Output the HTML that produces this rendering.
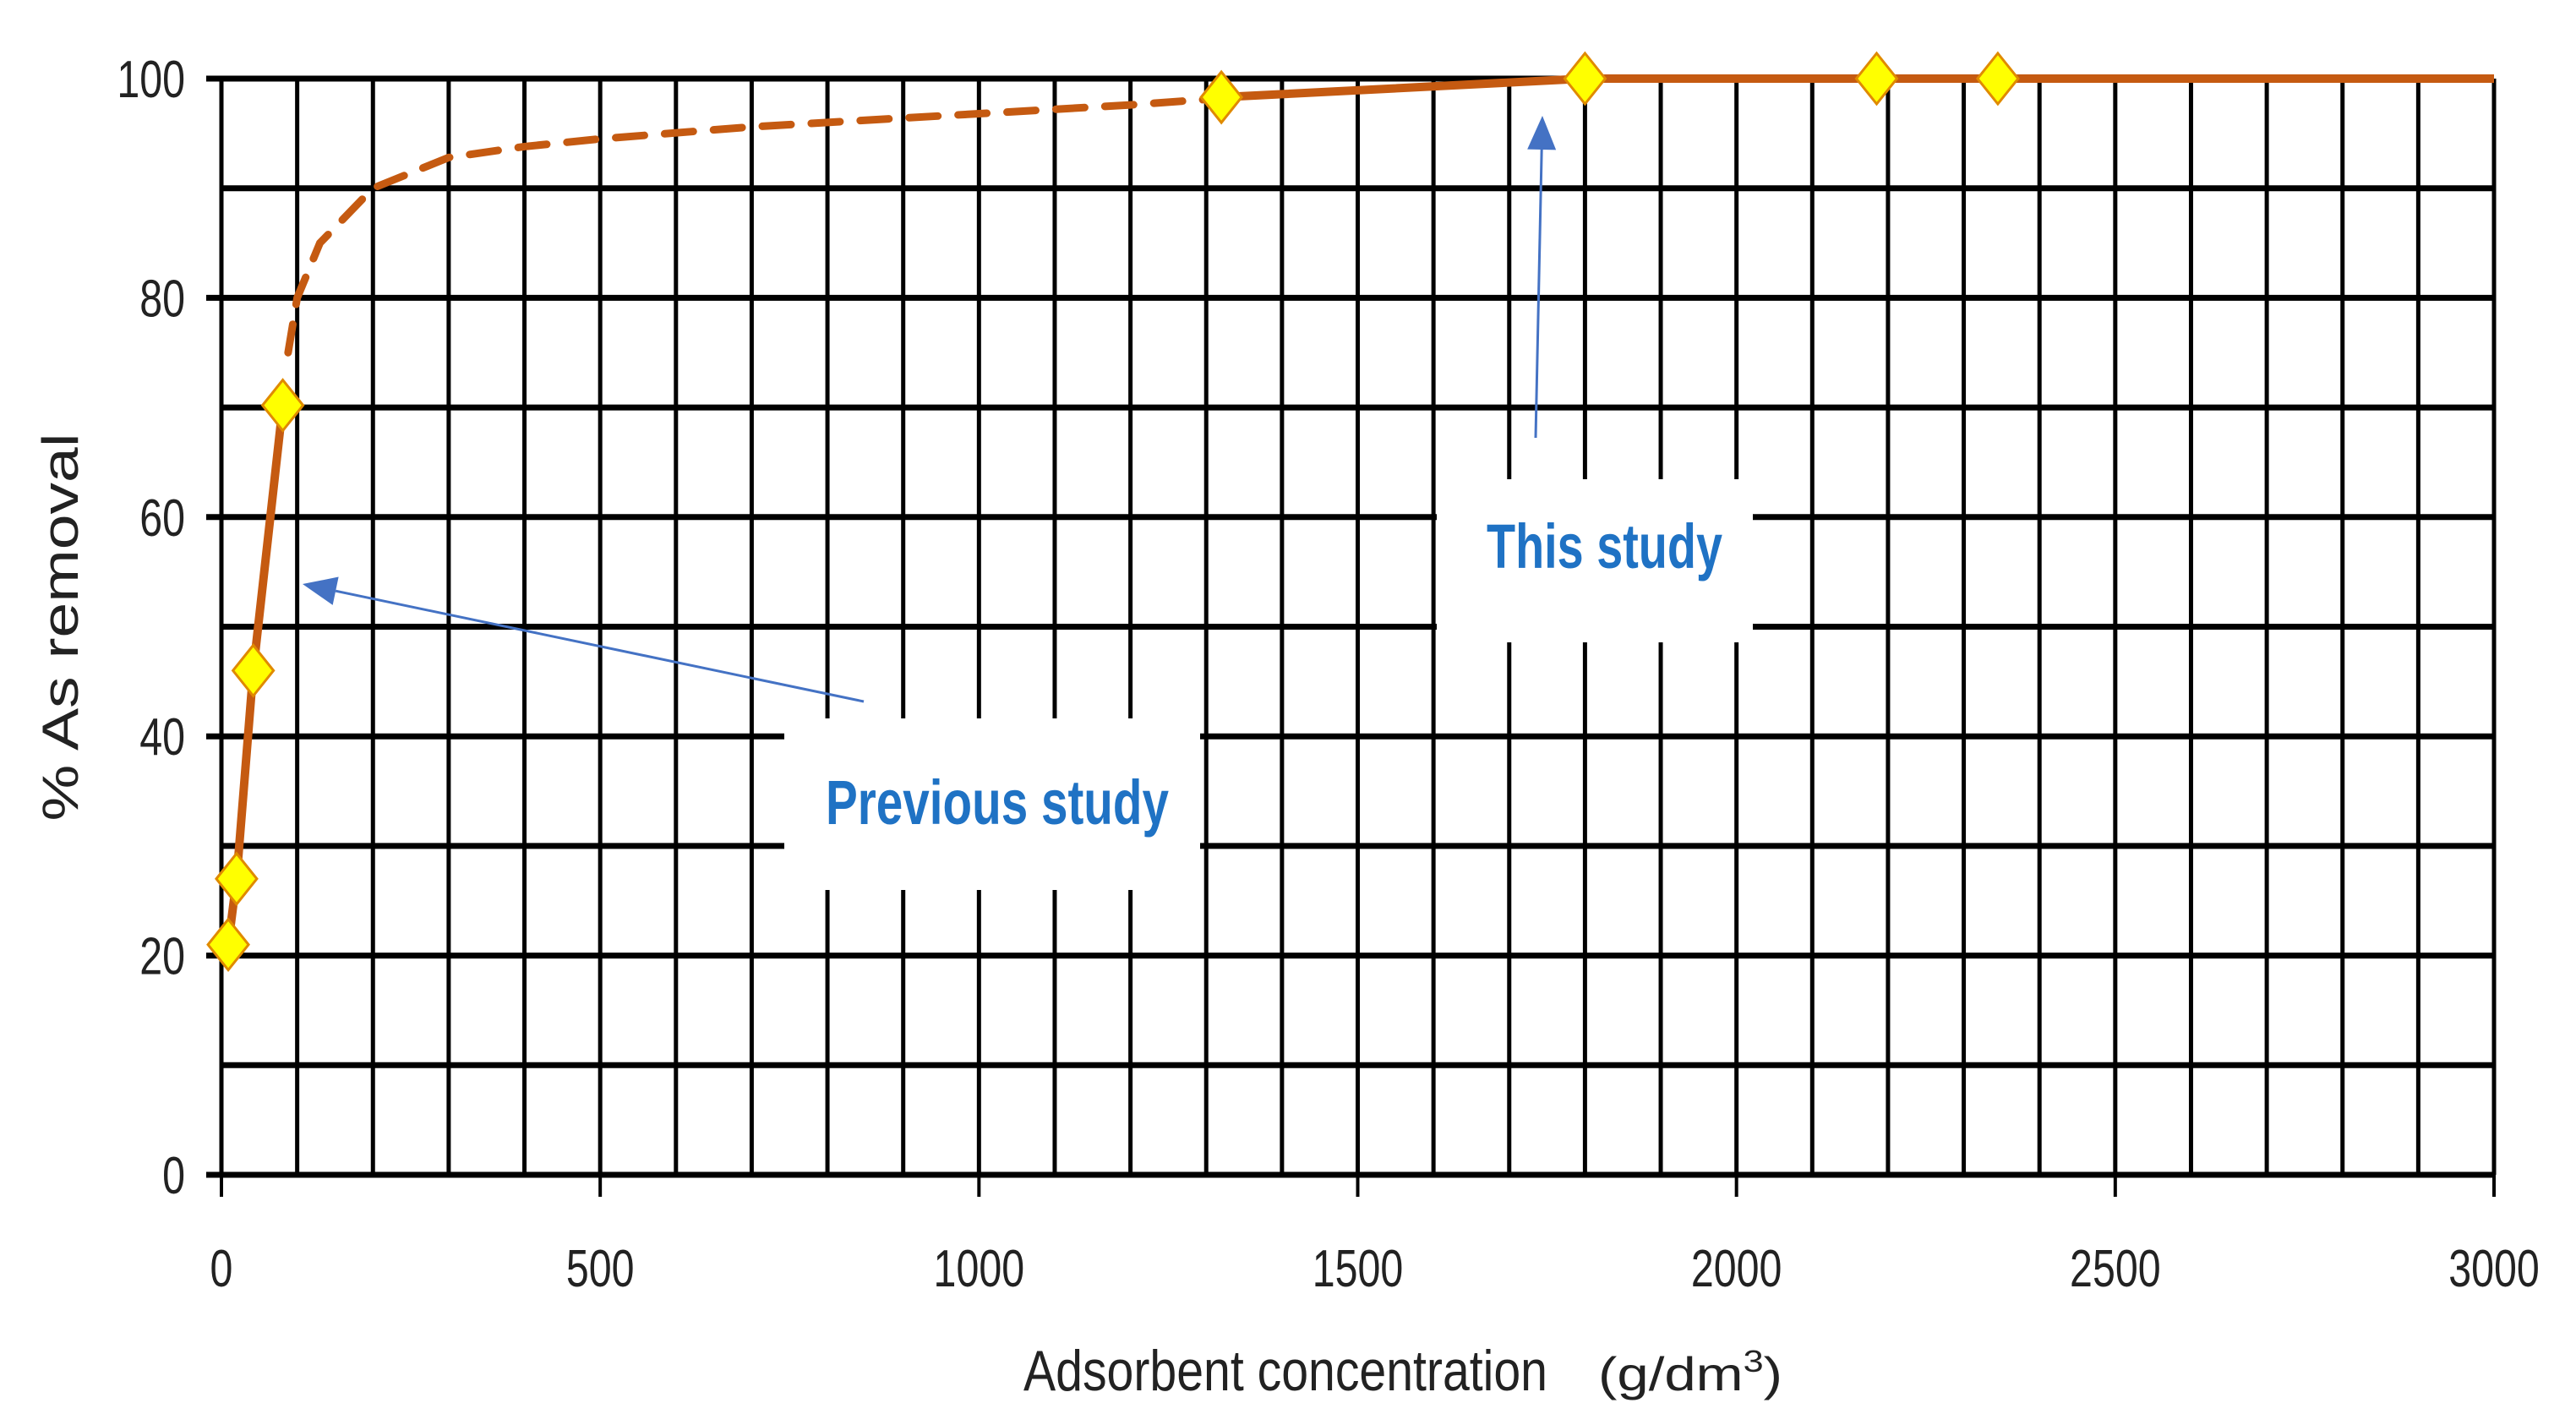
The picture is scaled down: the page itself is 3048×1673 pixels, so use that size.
<!DOCTYPE html>
<html><head><meta charset="utf-8"><style>
html,body{margin:0;padding:0;background:#fff;}
svg{display:block;}
text{font-family:"Liberation Sans",sans-serif;}
</style></head><body>
<svg id="chart" width="3048" height="1673" viewBox="0 0 3048 1673" xmlns="http://www.w3.org/2000/svg">
<g id="grid"></g>
<g id="ticks"></g>
<g id="series"></g>
<g id="annot"></g>
</svg>
<script>
const xTicks = [0, 500, 1000, 1500, 2000, 2500, 3000];
const yTicks = [0, 20, 40, 60, 80, 100];
const prevX = [9, 20, 42, 81];
const prevY = [21, 27, 46, 70.2];
const dashX = [88, 100, 130, 200, 300, 400, 500, 700, 1000, 1200, 1320];
const dashY = [75, 80, 85, 90, 92.8, 93.8, 94.5, 95.6, 96.8, 97.6, 98.2];
const thisX = [1320, 1800, 2185, 2345];
const thisY = [98.3, 100, 100, 100];
const lineEndX = 3000;
const lineEndY = 100;

const X0 = 262, X1 = 2951, Y0 = 1390, Y1 = 93;
const sx = v => X0 + (X1 - X0) * v / 3000;
const sy = v => Y0 - (Y0 - Y1) * v / 100;
const NS = "http://www.w3.org/2000/svg";
function mk(tag, attrs, parent) {
  const e = document.createElementNS(NS, tag);
  for (const k in attrs) e.setAttribute(k, attrs[k]);
  parent.appendChild(e);
  return e;
}
const grid = document.getElementById('grid');
const ticks = document.getElementById('ticks');
const series = document.getElementById('series');
const annot = document.getElementById('annot');

for (let v = 0; v <= 3000; v += 100) {
  const l = mk('line', {x1: sx(v), x2: sx(v), y1: sy(100), y2: sy(0), stroke: '#000', 'stroke-width': 5}, grid);
  
  
}
for (let v = 0; v <= 100; v += 10) {
  const l = mk('line', {x1: sx(0), x2: sx(3000), y1: sy(v), y2: sy(v), stroke: '#000', 'stroke-width': 7}, grid);
  
  
}
xTicks.forEach(v => {
  const t = mk('line', {x1: sx(v), x2: sx(v), y1: sy(0), y2: sy(0) + 26, stroke: '#000', 'stroke-width': 4}, ticks);
  
  
  const tx = mk('text', {x: sx(v), y: 1522, 'font-size': 62, 'text-anchor': 'middle', fill: '#222', transform: `translate(${sx(v)},0) scale(0.78,1) translate(${-sx(v)},0)`}, ticks);
  tx.textContent = v;
  
  
});
yTicks.forEach(v => {
  const t = mk('line', {x1: sx(0) - 18, x2: sx(0), y1: sy(v), y2: sy(v), stroke: '#000', 'stroke-width': 7}, ticks);
  
  
  const tx = mk('text', {x: 219, y: sy(v) + 22, 'font-size': 62, 'text-anchor': 'end', fill: '#222', transform: `translate(219,0) scale(0.78,1) translate(-219,0)`}, ticks);
  tx.textContent = v;
  
  
});

const b1 = mk('rect', {x: 928, y: 850, width: 492, height: 203, fill: '#fff'}, annot);


const b2 = mk('rect', {x: 1700, y: 567, width: 374, height: 193, fill: '#fff'}, annot);



const C = '#c55a11';
function pts(xs, ys) { return xs.map((x, i) => sx(x) + ',' + sy(ys[i])).join(' '); }
const dl = mk('polyline', {points: pts(dashX, dashY), fill: 'none', stroke: C, 'stroke-width': 9, 'stroke-dasharray': '34,24', 'stroke-linecap': 'round'}, series);


const pl = mk('polyline', {points: pts(prevX, prevY), fill: 'none', stroke: C, 'stroke-width': 10}, series);


const tl = mk('polyline', {points: pts(thisX.concat([lineEndX]), thisY.concat([lineEndY])), fill: 'none', stroke: C, 'stroke-width': 10}, series);


function diamond(x, y, name) {
  const cx = sx(x), cy = sy(y);
  const d = mk('polygon', {points: `${cx},${cy-30} ${cx+24},${cy} ${cx},${cy+30} ${cx-24},${cy}`, fill: '#ffff00', stroke: '#e08a00', 'stroke-width': 3}, series);
  
  
}
prevX.forEach((x, i) => diamond(x, prevY[i], 'previous-study-point'));
thisX.forEach((x, i) => diamond(x, thisY[i], 'this-study-point'));

function arrow(x1, y1, x2, y2, name) {
  const g = mk('g', {}, annot);
  
  
  const a = Math.atan2(y2 - y1, x2 - x1);
  const L = 40, W = 17;
  const bx = x2 - L * Math.cos(a), by = y2 - L * Math.sin(a);
  mk('line', {x1, y1, x2: bx, y2: by, stroke: '#4472c4', 'stroke-width': 3}, g);
  mk('polygon', {points: `${x2},${y2} ${bx - W*Math.sin(a)},${by + W*Math.cos(a)} ${bx + W*Math.sin(a)},${by - W*Math.cos(a)}`, fill: '#4472c4'}, g);
}
arrow(1022, 830, 358, 691, 'previous-study-arrow');
arrow(1817, 518, 1825, 137, 'this-study-arrow');
</script>
<div style="position:absolute;left:0;top:0;width:3048px;height:1673px;pointer-events:none">
<svg width="3048" height="1673" xmlns="http://www.w3.org/2000/svg">
<text x="977" y="975" font-size="74" font-weight="bold" fill="#1f72c4" textLength="406" lengthAdjust="spacingAndGlyphs" style="font-family:'Liberation Sans',sans-serif">Previous study</text>
<text x="1759" y="672" font-size="74" font-weight="bold" fill="#1f72c4" textLength="279" lengthAdjust="spacingAndGlyphs" style="font-family:'Liberation Sans',sans-serif">This study</text>
<text x="1211" y="1645" font-size="68" fill="#222" textLength="620" lengthAdjust="spacingAndGlyphs" style="font-family:'Liberation Sans',sans-serif">Adsorbent concentration</text>
<text x="1891" y="1645" font-size="56" fill="#222" textLength="218" lengthAdjust="spacingAndGlyphs" style="font-family:'Liberation Sans',sans-serif">(g/dm<tspan font-size="36" dy="-22">3</tspan><tspan dy="22">)</tspan></text>
<text transform="translate(92,742) rotate(-90)" text-anchor="middle" font-size="60" fill="#222" textLength="459" lengthAdjust="spacingAndGlyphs" style="font-family:'Liberation Sans',sans-serif">% As removal</text>
</svg>
</div>
</body></html>
